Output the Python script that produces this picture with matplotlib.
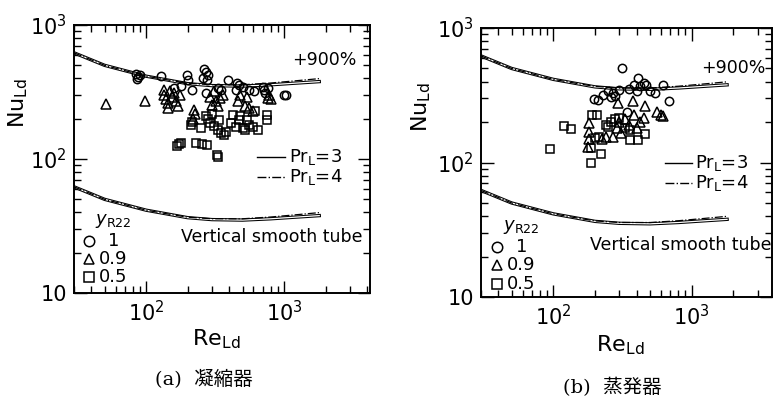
import matplotlib.pyplot as plt
from matplotlib.ticker import FixedLocator, LogLocator, NullFormatter

plt.rcParams['font.family'] = ['DejaVu Sans']
plt.rcParams['mathtext.fontset'] = 'dejavusans'

# correlation curves (vertical smooth tube), the upper ones are +900 %
curve_re = [30, 50, 100, 150, 200, 300, 500, 800, 1200, 1800]
nu_pr3 = [62, 50, 41.5, 38.5, 36.5, 35.3, 35.0, 35.8, 36.8, 37.8]
nu_pr4 = [62, 50, 41.5, 38.6, 36.8, 35.8, 35.8, 36.9, 38.3, 39.8]
plus900 = 10.0

# (a) condenser
a_circ_re = [84, 88, 86, 90, 128, 198, 200, 215, 262, 270, 280, 258, 275, 272, 393,
             456, 470, 450, 500, 700, 720, 730, 760, 1000, 1040, 330, 350, 560, 610, 180, 160]
a_circ_nu = [430, 410, 395, 420, 417, 424, 390, 327, 470, 445, 420, 400, 390, 311, 388,
             370, 355, 330, 345, 345, 330, 310, 340, 300, 300, 340, 330, 330, 320, 350, 340]
a_tri_re = [51, 98, 135, 140, 145, 150, 155, 160, 165, 170, 175, 145, 135, 223, 225, 220,
            290, 300, 310, 320, 345, 360, 330, 460, 480, 520, 560, 540, 600, 780, 770, 800]
a_tri_nu = [257, 271, 300, 280, 260, 320, 290, 310, 270, 250, 300, 240, 330, 232, 215, 200,
            290, 255, 320, 270, 285, 300, 250, 270, 300, 250, 240, 290, 230, 300, 285, 280]
a_sq_re = [172, 178, 168, 230, 255, 275, 327, 330, 210, 215, 250, 280, 300, 310, 330, 350,
           370, 380, 340, 290, 270, 427, 480, 538, 450, 520, 597, 650, 750, 750, 620, 560,
           500, 470, 410]
a_sq_nu = [129, 132, 125, 132, 130, 128, 107, 103, 180, 190, 170, 200, 215, 175, 165, 155,
           150, 160, 195, 185, 210, 213, 210, 195, 174, 165, 174, 165, 213, 195, 230, 180,
           170, 195, 185]

# (b) evaporator
b_circ_re = [315, 411, 380, 420, 450, 470, 620, 686, 195, 211, 250, 270, 300, 280, 260,
             339, 540, 500, 350, 230, 400]
b_circ_nu = [501, 423, 380, 370, 390, 380, 377, 288, 295, 290, 340, 330, 345, 310, 305,
             239, 330, 340, 350, 320, 340]
b_tri_re = [182, 180, 182, 178, 293, 376, 459, 300, 330, 380, 420, 450, 290, 310, 270, 240,
            225, 560, 600, 620, 350, 400]
b_tri_nu = [196, 170, 150, 130, 277, 288, 264, 200, 210, 225, 200, 215, 180, 165, 155, 155,
            150, 237, 227, 220, 190, 180]
b_sq_re = [94, 120, 135, 191, 207, 186, 188, 220, 240, 260, 280, 300, 330, 360, 358, 408,
           459, 200, 215, 250]
b_sq_nu = [126, 187, 178, 225, 225, 128, 100, 116, 190, 200, 210, 215, 180, 175, 146, 147,
           163, 152, 155, 185]

legend_vals = ['1', '0.9', '0.5']


def draw_panel(ax, circ, tri, sq, xmax, pos):
    for k in [1.0, plus900]:
        y3 = [v * k for v in nu_pr3]
        y4 = [v * k for v in nu_pr4]
        ax.plot(curve_re, y3, color='black', lw=2.4, zorder=2)
        ax.plot(curve_re, y3, color='white', lw=0.9, zorder=2)
        ax.plot(curve_re, y4, color='black', lw=0.9, ls='-.', zorder=2)

    ms = dict(ls='none', mfc='none', mec='black', mew=1.1, zorder=3)
    ax.plot(circ[0], circ[1], marker='o', ms=6, **ms)
    ax.plot(tri[0], tri[1], marker='^', ms=6.5, **ms)
    ax.plot(sq[0], sq[1], marker='s', ms=6, **ms)

    ax.set_xscale('log')
    ax.set_yscale('log')
    ax.set_xlim(30, xmax)
    ax.set_ylim(10, 1000)
    ax.xaxis.set_major_locator(FixedLocator([100, 1000]))
    ax.set_xticklabels([r'$10^2$', r'$10^3$'])
    ax.yaxis.set_major_locator(FixedLocator([10, 100, 1000]))
    ax.set_yticklabels(['10', r'$10^2$', r'$10^3$'])
    for axis in (ax.xaxis, ax.yaxis):
        axis.set_minor_locator(LogLocator(base=10, subs=range(2, 10)))
        axis.set_minor_formatter(NullFormatter())
    ax.tick_params(which='both', direction='in', top=True, right=True,
                   labelsize=15, width=1.0, pad=5)
    ax.tick_params(which='major', length=9)
    ax.tick_params(which='minor', length=5)
    for s in ax.spines.values():
        s.set_linewidth(1.4)

    ax.set_xlabel(r'$\mathrm{Re_{Ld}}$', fontsize=16)
    ax.set_ylabel(r'$\mathrm{Nu_{Ld}}$', fontsize=16)
    ax.xaxis.set_label_coords(pos['xl'][0], pos['xl'][1])
    ax.yaxis.set_label_coords(pos['yl'][0], pos['yl'][1])

    t = ax.transAxes
    ax.text(pos['p900'][0], pos['p900'][1], '+900%', transform=t, ha='right',
            va='center', fontsize=12.5)
    ax.text(pos['vst'][0], pos['vst'][1], 'Vertical smooth tube', transform=t,
            ha='right', va='center', fontsize=12.5)
    lx0, lx1, ly = pos['pr']
    ax.plot([lx0, lx1], [ly, ly], color='black', lw=1.0, transform=t)
    ax.plot([lx0, lx1], [ly - 0.075, ly - 0.075], color='black', lw=1.0, ls='-.',
            transform=t)
    ax.text(lx1 + 0.012, ly, r'Pr$_\mathrm{L}$=3', transform=t, va='center', fontsize=13)
    ax.text(lx1 + 0.012, ly - 0.075, r'Pr$_\mathrm{L}$=4', transform=t, va='center',
            fontsize=13)

    mx, my = pos['leg']
    ax.text(mx + 0.02, my + 0.075, r'$y_\mathrm{R22}$', transform=t, va='center',
            fontsize=13)
    for i, mk in enumerate(['o', '^', 's']):
        yy = my - i * 0.068
        ax.plot([mx], [yy], marker=mk, ms=7.5, mfc='none', mec='black', mew=1.1,
                transform=t, clip_on=False)
        ax.text(mx + 0.035 + (0.03 if i == 0 else 0), yy, legend_vals[i], transform=t,
                va='center', fontsize=13)


fig = plt.figure(figsize=(7.73, 3.97), dpi=100)
ax_a = fig.add_axes([74 / 773, 1 - 293 / 397, 296 / 773, 268 / 397])
ax_b = fig.add_axes([481 / 773, 1 - 297 / 397, 291 / 773, 269 / 397])

draw_panel(ax_a, (a_circ_re, a_circ_nu), (a_tri_re, a_tri_nu), (a_sq_re, a_sq_nu), 4200,
           dict(xl=(0.48, -0.13), yl=(-0.15, 0.71), p900=(0.956, 0.87), vst=(0.976, 0.21),
                pr=(0.618, 0.713, 0.507), leg=(0.05, 0.194)))
draw_panel(ax_b, (b_circ_re, b_circ_nu), (b_tri_re, b_tri_nu), (b_sq_re, b_sq_nu), 3800,
           dict(xl=(0.478, -0.134), yl=(-0.165, 0.706), p900=(0.976, 0.851),
                vst=(0.997, 0.193), pr=(0.632, 0.725, 0.498), leg=(0.055, 0.186)))

cap = ['DejaVu Serif', 'Noto Sans CJK JP']
fig.text(204 / 773, 1 - 380 / 397, '(a)  凝縮器', ha='center', va='center', fontsize=14,
         family=cap)
fig.text(612 / 773, 1 - 387 / 397, '(b)  蒸発器', ha='center', va='center', fontsize=14,
         family=cap)

fig.savefig('out.png', dpi=100)
